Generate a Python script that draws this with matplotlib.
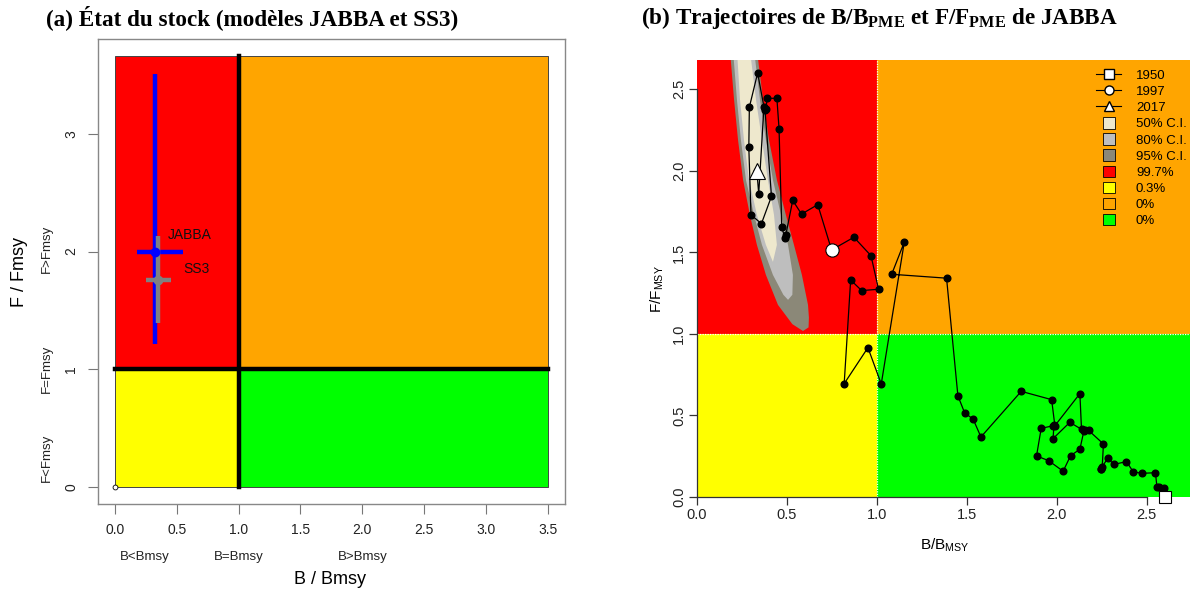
import numpy as np
import matplotlib.pyplot as plt
from matplotlib.lines import Line2D
from matplotlib.patches import Patch, Rectangle, Polygon
from matplotlib.legend_handler import HandlerPatch
from matplotlib.transforms import blended_transform_factory

plt.rcParams['font.family'] = ['Liberation Sans', 'DejaVu Sans']

# ---- (a) stock status, JABBA and SS3 ----
models = ['JABBA', 'SS3']
model_colors = ['#0000FF', '#808080']
b_est = [0.326, 0.345]
f_est = [2.00, 1.76]
b_low = [0.175, 0.25]
b_high = [0.55, 0.45]
f_low = [1.21, 1.39]
f_high = [3.51, 2.13]
label_b = [0.43, 0.55]
label_f = [2.14, 1.85]
b_max_a = 3.5
f_max_a = 3.66
b_ticks_a = [0.0, 0.5, 1.0, 1.5, 2.0, 2.5, 3.0, 3.5]
f_ticks_a = [0, 1, 2, 3]
b_zone_labels = ['B<Bmsy', 'B=Bmsy', 'B>Bmsy']
b_zone_pos = [0.24, 1.0, 2.0]
f_zone_labels = ['F<Fmsy', 'F=Fmsy', 'F>Fmsy']
f_zone_pos = [0.25, 1.0, 2.02]

# ---- (b) JABBA trajectory 1950-2017 ----
traj_b = [2.602, 2.594, 2.565, 2.556, 2.548, 2.471, 2.424, 2.387, 2.317, 2.283,
          2.244, 2.248, 2.252, 2.259, 2.176, 2.156, 2.150, 2.128, 2.076, 2.035,
          1.954, 1.887, 1.913, 1.979, 1.984, 1.979, 2.072, 2.137, 2.128, 1.989,
          1.971, 1.802, 1.578, 1.535, 1.487, 1.450, 1.387, 1.082, 1.152, 1.024,
          0.950, 0.818, 0.854, 0.915, 1.009, 0.967, 0.872, 0.748, 0.671, 0.581,
          0.532, 0.493, 0.488, 0.471, 0.456, 0.444, 0.391, 0.382, 0.378, 0.414,
          0.358, 0.300, 0.288, 0.291, 0.337, 0.372, 0.343, 0.333]
traj_f = [0.002, 0.053, 0.059, 0.064, 0.149, 0.145, 0.155, 0.217, 0.200, 0.237,
          0.174, 0.170, 0.184, 0.325, 0.409, 0.411, 0.404, 0.293, 0.253, 0.158,
          0.223, 0.252, 0.421, 0.437, 0.442, 0.358, 0.458, 0.415, 0.634, 0.437,
          0.597, 0.648, 0.368, 0.477, 0.517, 0.621, 1.342, 1.366, 1.563, 0.693,
          0.916, 0.695, 1.331, 1.266, 1.274, 1.480, 1.593, 1.515, 1.793, 1.735,
          1.819, 1.604, 1.590, 1.655, 2.258, 2.445, 2.445, 2.382, 2.372, 1.844,
          1.676, 1.731, 2.144, 2.391, 2.600, 2.393, 1.859, 1.997]
years = list(range(1950, 2018))
marked_years = [1950, 1997, 2017]
marked_shapes = ['s', 'o', '^']

# kernel density contours of the final year (outlines)
ci_labels = ['50% C.I.', '80% C.I.', '95% C.I.']
ci_colors = ['#EEE8CD', '#BEBEBE', '#8B8878']
ci95_b = [0.183, 0.206, 0.228, 0.256, 0.294, 0.333, 0.383, 0.450, 0.530, 0.589,
          0.620, 0.622, 0.617, 0.583, 0.539, 0.494, 0.444, 0.400, 0.367, 0.333]
ci95_f = [2.742, 2.436, 2.190, 1.945, 1.730, 1.546, 1.362, 1.178, 1.060, 1.018,
          1.040, 1.100, 1.178, 1.362, 1.546, 1.730, 1.945, 2.190, 2.436, 2.742]
ci80_b = [0.200, 0.222, 0.244, 0.272, 0.317, 0.361, 0.422, 0.480, 0.506, 0.530,
          0.533, 0.506, 0.467, 0.422, 0.383, 0.350, 0.317]
ci80_f = [2.742, 2.436, 2.190, 1.945, 1.730, 1.546, 1.362, 1.240, 1.209, 1.240,
          1.362, 1.546, 1.730, 1.945, 2.190, 2.436, 2.742]
ci50_b = [0.222, 0.239, 0.261, 0.289, 0.333, 0.383, 0.422, 0.444, 0.428, 0.394,
          0.361, 0.328, 0.294]
ci50_f = [2.742, 2.436, 2.190, 1.945, 1.730, 1.546, 1.442, 1.546, 1.730, 1.945,
          2.190, 2.436, 2.742]

quadrant_labels = ['99.7%', '0.3%', '0%', '0%']
quadrant_colors = ['#FF0000', '#FFFF00', '#FFA500', '#00FF00']
b_lim_b = 2.74
f_lim_b = 2.68
ticks_b = [0.0, 0.5, 1.0, 1.5, 2.0, 2.5]

fig = plt.figure(figsize=(11.9, 5.94), dpi=100)

# ================= panel (a) =================
ax1 = fig.add_axes([0.0821, 0.1515, 0.3927, 0.7828])
pad_b = 0.04 * b_max_a
pad_f = 0.04 * f_max_a
ax1.set_xlim(-pad_b, b_max_a + pad_b)
ax1.set_ylim(-pad_f, f_max_a + pad_f)
zones_a = [((0, 1), 1, f_max_a - 1, '#FF0000'),
           ((1, 1), b_max_a - 1, f_max_a - 1, '#FFA500'),
           ((0, 0), 1, 1, '#FFFF00'),
           ((1, 0), b_max_a - 1, 1, '#00FF00')]
for xy, w, h, c in zones_a:
    ax1.add_patch(Rectangle(xy, w, h, facecolor=c, edgecolor='#444444', lw=0.7, zorder=1))
ax1.plot([1, 1], [0, f_max_a], color='black', lw=3.2, zorder=2)
ax1.plot([0, b_max_a], [1, 1], color='black', lw=3.2, zorder=2)
ax1.plot([0], [0], 'o', ms=3.5, mfc='white', mec='black', mew=0.6, zorder=3)

for i in range(len(models)):
    c = model_colors[i]
    ax1.plot([b_est[i], b_est[i]], [f_low[i], f_high[i]], color=c, lw=3.2,
             solid_capstyle='butt', zorder=4)
    ax1.plot([b_low[i], b_high[i]], [f_est[i], f_est[i]], color=c, lw=3.2,
             solid_capstyle='butt', zorder=4)
    ax1.plot(b_est[i], f_est[i], 'o', color=c, ms=6, zorder=5)
    ax1.text(label_b[i], label_f[i], models[i], fontsize=10, ha='left',
             va='center', color='#111111', zorder=6)

ax1.set_xticks(b_ticks_a)
ax1.set_xticklabels(['%.1f' % v for v in b_ticks_a])
ax1.set_yticks(f_ticks_a)
ax1.set_yticklabels([str(v) for v in f_ticks_a], rotation=90, va='center')
ax1.tick_params(axis='both', length=7, width=0.8, color='#777777',
                labelsize=10, labelcolor='#222222')
ax1.tick_params(axis='x', pad=7)
ax1.tick_params(axis='y', pad=7)
for s in ax1.spines.values():
    s.set_color('#888888')
    s.set_linewidth(1.0)

tr_bx = blended_transform_factory(ax1.transData, fig.transFigure)
for lab, pos in zip(b_zone_labels, b_zone_pos):
    ax1.text(pos, 1 - 557 / 594, lab, transform=tr_bx, ha='center',
             va='center', fontsize=9.5, color='#222222')
tr_fy = blended_transform_factory(fig.transFigure, ax1.transData)
for lab, pos in zip(f_zone_labels, f_zone_pos):
    ax1.text(47 / 1190, pos, lab, transform=tr_fy, ha='center', va='center',
             rotation=90, fontsize=9.5, color='#222222')
fig.text(330 / 1190, 1 - 580 / 594, 'B / Bmsy', ha='center', va='center',
         fontsize=13)
fig.text(20 / 1190, 1 - 272 / 594, 'F / Fmsy', ha='center', va='center',
         rotation=90, fontsize=13)
fig.text(252 / 1190, 1 - 18 / 594, '(a) État du stock (modèles JABBA et SS3)',
         ha='center', va='center', fontsize=16.7, fontweight='bold',
         family='Liberation Serif')

# ================= panel (b) =================
ax2 = fig.add_axes([697 / 1190, 97 / 594, (1190 - 697) / 1190, 437 / 594])
ax2.set_xlim(0, b_lim_b)
ax2.set_ylim(0, f_lim_b)
zones_b = [((0, 1), 1, f_lim_b, quadrant_colors[0]),
           ((0, 0), 1, 1, quadrant_colors[1]),
           ((1, 1), b_lim_b, f_lim_b, quadrant_colors[2]),
           ((1, 0), b_lim_b, 1, quadrant_colors[3])]
for xy, w, h, c in zones_b:
    ax2.add_patch(Rectangle(xy, w, h, facecolor=c, edgecolor='none', zorder=0))

for cb, cf, col in [(ci95_b, ci95_f, ci_colors[2]),
                    (ci80_b, ci80_f, ci_colors[1]),
                    (ci50_b, ci50_f, ci_colors[0])]:
    ax2.add_patch(Polygon(np.column_stack([cb, cf]), closed=True,
                          facecolor=col, edgecolor='none', zorder=1))

ax2.axvline(1, color='white', lw=0.9, ls=(0, (1, 1)), zorder=2)
ax2.axhline(1, color='white', lw=0.9, ls=(0, (1, 1)), zorder=2)

ax2.plot(traj_b, traj_f, '-', color='black', lw=0.9, zorder=3)
ax2.plot(traj_b, traj_f, 'o', color='black', ms=4.8, zorder=4)
marker_sizes = [8, 9.5, 11.5]
for yr, shp, msz in zip(marked_years, marked_shapes, marker_sizes):
    k = years.index(yr)
    ax2.plot(traj_b[k], traj_f[k], shp, ms=msz, mfc='white', mec='black',
             mew=0.8, zorder=5, clip_on=False)

ax2.set_xticks(ticks_b)
ax2.set_xticklabels(['%.1f' % v for v in ticks_b])
ax2.set_yticks(ticks_b)
ax2.set_yticklabels(['%.1f' % v for v in ticks_b], rotation=90, va='center')
ax2.tick_params(axis='both', length=6, width=0.9, color='#333333',
                labelsize=10.5, labelcolor='#222222', pad=2)
for side in ['top', 'right']:
    ax2.spines[side].set_visible(False)
for side in ['left', 'bottom']:
    ax2.spines[side].set_bounds(0, 2.5)
    ax2.spines[side].set_color('#333333')
    ax2.spines[side].set_linewidth(0.9)

fig.text(945 / 1190, 1 - 545 / 594, r'B/B$_\mathregular{MSY}$', ha='center',
         va='center', fontsize=11)
fig.text(657 / 1190, 1 - 289 / 594, r'F/F$_\mathregular{MSY}$', ha='center',
         va='center', rotation=90, fontsize=11)
fig.text(879 / 1190, 1 - 18 / 594,
         r'(b) Trajectoires de B/B$_\mathregular{PME}$ et F/F$_\mathregular{PME}$ de JABBA',
         ha='center', va='center', fontsize=16.7, fontweight='bold',
         family='Liberation Serif')


def square_patch(legend, orig_handle, xdescent, ydescent, width, height, fontsize):
    s = height
    return Rectangle((width / 2 - s / 2 - xdescent, -ydescent), s, s)


handles = []
for yr, shp in zip(marked_years, marked_shapes):
    handles.append(Line2D([], [], color='black', lw=0.8, marker=shp, ms=6.5,
                          mfc='white', mec='black', label=str(yr)))
for lab, col in zip(ci_labels, ci_colors):
    handles.append(Patch(facecolor=col, edgecolor='black', lw=0.6, label=lab))
for lab, col in zip(quadrant_labels, quadrant_colors):
    handles.append(Patch(facecolor=col, edgecolor='black', lw=0.6, label=lab))
leg = ax2.legend(handles=handles, loc='upper right', bbox_to_anchor=(1.004, 0.992),
                 borderaxespad=0.0, frameon=False, fontsize=9.5,
                 handlelength=1.9, handleheight=0.95, labelspacing=0.22,
                 handletextpad=1.1,
                 handler_map={Patch: HandlerPatch(patch_func=square_patch)})

fig.savefig('out.png', dpi=100)
